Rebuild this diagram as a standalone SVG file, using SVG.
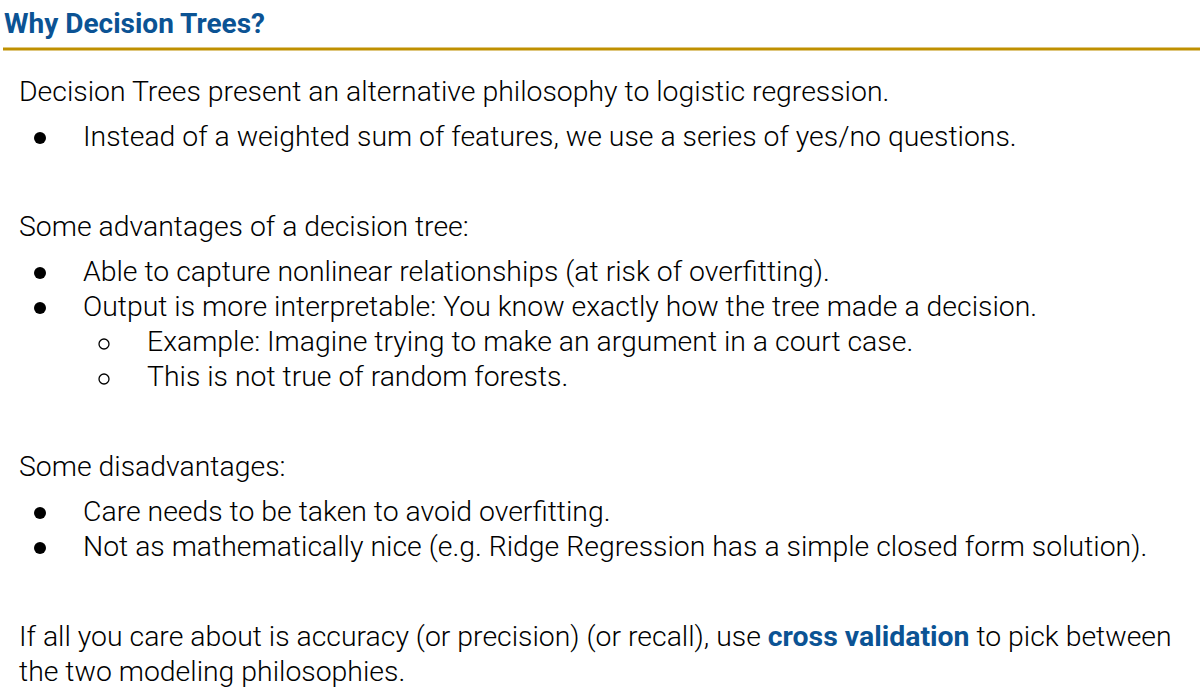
<svg xmlns="http://www.w3.org/2000/svg" width="1200" height="688" viewBox="0 0 1200 688">
<style>
.t{font-family:Roboto,"Liberation Sans",sans-serif;font-weight:300;font-size:28.4px;fill:#000}
.h{font-family:Roboto,"Liberation Sans",sans-serif;font-weight:700;font-size:28px;fill:#0b5394}
.b{font-weight:700;fill:#0b5394}
</style>
<rect width="1200" height="688" fill="#fff"/>
<g id="title">
<text class="h" x="4" y="33">Why Decision Trees?</text>
<rect x="3" y="47.5" width="1197" height="3" fill="#bf9000"/>
</g>
<g id="body">
<text class="t" x="19" y="101">Decision Trees present an alternative philosophy to logistic regression.</text>
<circle cx="40" cy="138" r="6" fill="#000"/>
<text class="t" x="83" y="146">Instead of a weighted sum of features, we use a series of yes/no questions.</text>
<text class="t" x="19" y="236">Some advantages of a decision tree:</text>
<circle cx="40" cy="273" r="6" fill="#000"/>
<text class="t" x="83" y="281">Able to capture nonlinear relationships (at risk of overfitting).</text>
<circle cx="40" cy="308" r="6" fill="#000"/>
<text class="t" x="83" y="316">Output is more interpretable: You know exactly how the tree made a decision.</text>
<circle cx="104" cy="344" r="5" fill="none" stroke="#000" stroke-width="1.3"/>
<text class="t" x="147" y="351">Example: Imagine trying to make an argument in a court case.</text>
<circle cx="104" cy="379" r="5" fill="none" stroke="#000" stroke-width="1.3"/>
<text class="t" x="147" y="386">This is not true of random forests.</text>
<text class="t" x="19" y="476">Some disadvantages:</text>
<circle cx="40" cy="513" r="6" fill="#000"/>
<text class="t" x="83" y="521">Care needs to be taken to avoid overfitting.</text>
<circle cx="40" cy="548" r="6" fill="#000"/>
<text class="t" x="83" y="556">Not as mathematically nice (e.g. Ridge Regression has a simple closed form solution).</text>
<text class="t" x="19" y="646">If all you care about is accuracy (or precision) (or recall), use <tspan class="b">cross validation</tspan> to pick between</text>
<text class="t" x="19" y="681">the two modeling philosophies.</text>
</g>
</svg>
